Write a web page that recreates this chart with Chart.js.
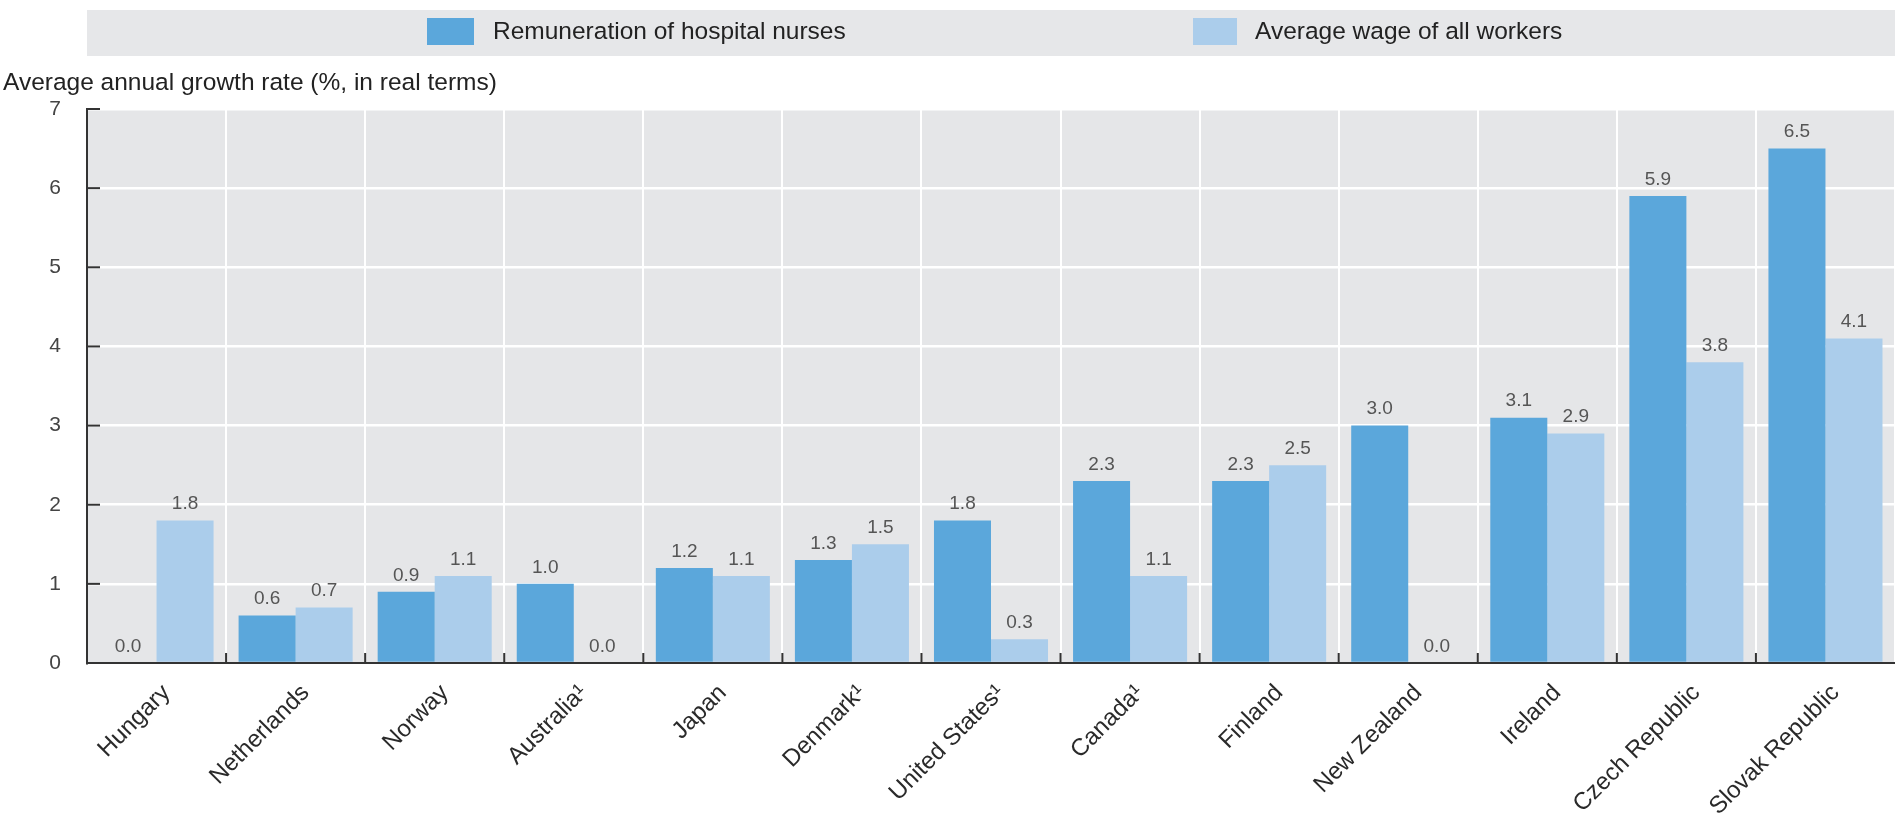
<!DOCTYPE html>
<html>
<head>
<meta charset="utf-8">
<script src="https://cdn.jsdelivr.net/npm/chart.js@4.4.1/dist/chart.umd.min.js"></script>
<style>
body{margin:0;background:#fff;}
#wrap{width:1895px;height:820px;position:relative;}
</style>
</head>
<body>
<div id="wrap"><canvas id="growth-chart"></canvas></div>
<script>
const countries=['Hungary','Netherlands','Norway','Australia¹','Japan','Denmark¹','United States¹','Canada¹','Finland','New Zealand','Ireland','Czech Republic','Slovak Republic'];
const nurses=[0.0,0.6,0.9,1.0,1.2,1.3,1.8,2.3,2.3,3.0,3.1,5.9,6.5];
const allWorkers=[1.8,0.7,1.1,0.0,1.1,1.5,0.3,1.1,2.5,0.0,2.9,3.8,4.1];
const seriesNames=['Remuneration of hospital nurses','Average wage of all workers'];
const yTitle='Average annual growth rate (%, in real terms)';

const FONT="'Liberation Sans', Arial, sans-serif";
const darkBlue='#5ba7db';
const lightBlue='#abcdeb';

// legend band, axis title, inward ticks and value labels
const extras={
    id:'extras',
    beforeDraw(chart){
        const ctx=chart.ctx;
        const a=chart.chartArea;
        ctx.save();
        ctx.fillStyle='#e6e7e9';
        ctx.fillRect(a.left,10,chart.width-a.left,46);
        ctx.fillStyle='#e5e6e8';
        ctx.fillRect(a.left,a.top,a.right-a.left,a.bottom-a.top);
        ctx.restore();
    },
    afterDraw(chart){
        const ctx=chart.ctx;
        const a=chart.chartArea;
        const x=chart.scales.x;
        const y=chart.scales.y;
        ctx.save();

        const legendBox=[[427,47],[1193,44]];
        const legendText=[493,1255];
        chart.data.datasets.forEach((ds,i)=>{
            ctx.fillStyle=ds.backgroundColor;
            ctx.fillRect(legendBox[i][0],18,legendBox[i][1],27);
            ctx.fillStyle='#222';
            ctx.font='24.5px '+FONT;
            ctx.textAlign='left';
            ctx.textBaseline='middle';
            ctx.fillText(ds.label,legendText[i],32);
        });

        ctx.fillStyle='#222';
        ctx.font='24.5px '+FONT;
        ctx.textAlign='left';
        ctx.textBaseline='middle';
        ctx.fillText(yTitle,3,83);

        ctx.strokeStyle='#333';
        ctx.lineWidth=2;
        y.ticks.forEach(t=>{
            const py=y.getPixelForValue(t.value);
            ctx.beginPath();
            ctx.moveTo(a.left,py);
            ctx.lineTo(a.left+13,py);
            ctx.stroke();
        });
        const step=x.getPixelForValue(1)-x.getPixelForValue(0);
        for(let i=1;i<countries.length;i++){
            const px=x.getPixelForValue(i)-step/2;
            ctx.beginPath();
            ctx.moveTo(px,a.bottom);
            ctx.lineTo(px,a.bottom-10);
            ctx.stroke();
        }

        ctx.fillStyle='#555';
        ctx.font='19px '+FONT;
        ctx.textAlign='center';
        ctx.textBaseline='bottom';
        chart.data.datasets.forEach((ds,i)=>{
            chart.getDatasetMeta(i).data.forEach((bar,j)=>{
                ctx.fillText(ds.data[j].toFixed(1),bar.x,bar.y-7);
            });
        });
        ctx.restore();
    }
};

const ctx=document.getElementById('growth-chart').getContext('2d');
const chart=new Chart(ctx,{
    type:'bar',
    data:{
        labels:countries,
        datasets:[
            {label:seriesNames[0],data:nurses,backgroundColor:darkBlue},
            {label:seriesNames[1],data:allWorkers,backgroundColor:lightBlue}
        ]
    },
    options:{
        responsive:true,
        maintainAspectRatio:false,
        animation:false,
        layout:{padding:{top:109,left:0,right:0,bottom:0}},
        datasets:{bar:{categoryPercentage:0.82,barPercentage:1.0}},
        plugins:{
            legend:{display:false},
            title:{display:false},
            tooltip:{enabled:false}
        },
        scales:{
            x:{
                grid:{color:'#ffffff',lineWidth:2,drawTicks:false,offset:true},
                border:{color:'#333',width:2},
                ticks:{
                    color:'#2a2a2a',
                    font:{family:FONT,size:24},
                    minRotation:45,
                    maxRotation:45,
                    padding:16,
                    labelOffset:10,
                    autoSkip:false
                },
                afterFit(scale){scale.height=157;}
            },
            y:{
                min:0,
                max:7,
                grid:{color:'#ffffff',lineWidth:2.5,drawTicks:false},
                border:{color:'#333',width:2},
                ticks:{
                    stepSize:1,
                    color:'#444',
                    font:{family:FONT,size:21},
                    padding:26
                },
                afterFit(scale){scale.width=87;}
            }
        }
    },
    plugins:[extras]
});
</script>
</body>
</html>
